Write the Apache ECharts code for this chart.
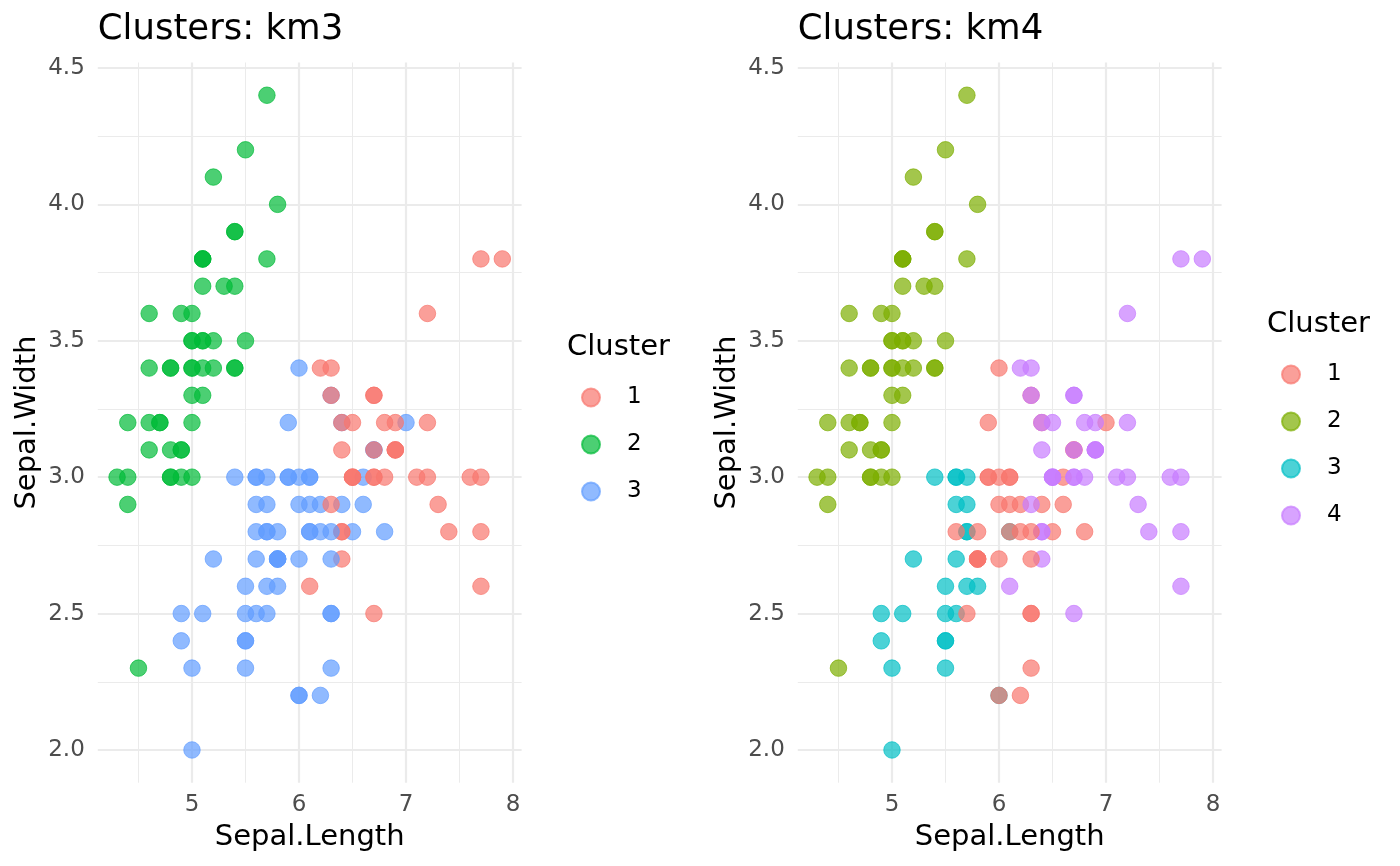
<!DOCTYPE html>
<html>
<head>
<meta charset="utf-8">
<script src="https://cdn.jsdelivr.net/npm/echarts@6/dist/echarts.min.js"></script>
<style>
html,body{margin:0;padding:0;background:#fff;}
#chart{width:1400px;height:866px;}
</style>
</head>
<body>
<div id="chart"></div>
<script>
const sepalLength = [
5.1,4.9,4.7,4.6,5.0,5.4,4.6,5.0,4.4,4.9,
5.4,4.8,4.8,4.3,5.8,5.7,5.4,5.1,5.7,5.1,
5.4,5.1,4.6,5.1,4.8,5.0,5.0,5.2,5.2,4.7,
4.8,5.4,5.2,5.5,4.9,5.0,5.5,4.9,4.4,5.1,
5.0,4.5,4.4,5.0,5.1,4.8,5.1,4.6,5.3,5.0,
7.0,6.4,6.9,5.5,6.5,5.7,6.3,4.9,6.6,5.2,
5.0,5.9,6.0,6.1,5.6,6.7,5.6,5.8,6.2,5.6,
5.9,6.1,6.3,6.1,6.4,6.6,6.8,6.7,6.0,5.7,
5.5,5.5,5.8,6.0,5.4,6.0,6.7,6.3,5.6,5.5,
5.5,6.1,5.8,5.0,5.6,5.7,5.7,6.2,5.1,5.7,
6.3,5.8,7.1,6.3,6.5,7.6,4.9,7.3,6.7,7.2,
6.5,6.4,6.8,5.7,5.8,6.4,6.5,7.7,7.7,6.0,
6.9,5.6,7.7,6.3,6.7,7.2,6.2,6.1,6.4,7.2,
7.4,7.9,6.4,6.3,6.1,7.7,6.3,6.4,6.0,6.9,
6.7,6.9,5.8,6.8,6.7,6.7,6.3,6.5,6.2,5.9
];
const sepalWidth = [
3.5,3.0,3.2,3.1,3.6,3.9,3.4,3.4,2.9,3.1,
3.7,3.4,3.0,3.0,4.0,4.4,3.9,3.5,3.8,3.8,
3.4,3.7,3.6,3.3,3.4,3.0,3.4,3.5,3.4,3.2,
3.1,3.4,4.1,4.2,3.1,3.2,3.5,3.6,3.0,3.4,
3.5,2.3,3.2,3.5,3.8,3.0,3.8,3.2,3.7,3.3,
3.2,3.2,3.1,2.3,2.8,2.8,3.3,2.4,2.9,2.7,
2.0,3.0,2.2,2.9,2.9,3.1,3.0,2.7,2.2,2.5,
3.2,2.8,2.5,2.8,2.9,3.0,2.8,3.0,2.9,2.6,
2.4,2.4,2.7,2.7,3.0,3.4,3.1,2.3,3.0,2.5,
2.6,3.0,2.6,2.3,2.7,3.0,2.9,2.9,2.5,2.8,
3.3,2.7,3.0,2.9,3.0,3.0,2.5,2.9,2.5,3.6,
3.2,2.7,3.0,2.5,2.8,3.2,3.0,3.8,2.6,2.2,
3.2,2.8,2.8,2.7,3.3,3.2,2.8,3.0,2.8,3.0,
2.8,3.8,2.8,2.8,2.6,3.0,3.4,3.1,3.0,3.1,
3.1,3.1,2.7,3.2,3.3,3.0,2.5,3.0,3.4,3.0
];
const km3 = [
2,2,2,2,2,2,2,2,2,2, 2,2,2,2,2,2,2,2,2,2, 2,2,2,2,2,2,2,2,2,2, 2,2,2,2,2,2,2,2,2,2, 2,2,2,2,2,2,2,2,2,2,
3,3,1,3,3,3,3,3,3,3, 3,3,3,3,3,3,3,3,3,3, 3,3,3,3,3,3,3,1,3,3, 3,3,3,3,3,3,3,3,3,3, 3,3,3,3,3,3,3,3,3,3,
1,3,1,1,1,1,3,1,1,1, 1,1,1,3,3,1,1,1,1,3, 1,3,1,3,1,1,3,3,1,1, 1,1,1,3,1,1,1,1,3,1, 1,1,3,1,1,1,3,1,1,3
];
const km4 = [
2,2,2,2,2,2,2,2,2,2, 2,2,2,2,2,2,2,2,2,2, 2,2,2,2,2,2,2,2,2,2, 2,2,2,2,2,2,2,2,2,2, 2,2,2,2,2,2,2,2,2,2,
1,1,4,3,1,3,1,3,1,3, 3,1,3,1,3,1,3,1,1,3, 1,3,1,1,1,1,1,4,1,3, 3,3,1,1,3,1,1,1,3,3, 3,1,3,3,3,3,3,1,3,3,
4,1,4,4,4,4,3,4,4,4, 4,4,4,1,1,4,4,4,4,1, 4,1,4,1,4,4,1,1,4,4, 4,4,4,1,4,4,4,4,1,4, 4,4,1,4,4,4,1,4,4,1
];
const panelTitles = ['Clusters: km3', 'Clusters: km4'];
const clusterLabels3 = ['1','2','3'];
const clusterLabels4 = ['1','2','3','4'];
const colors3 = ['#F8766D','#00BA38','#619CFF'];
const colors4 = ['#F8766D','#7CAE00','#00BFC4','#C77CFF'];
const xTicks = [5,6,7,8];
const xMinor = [4.5,5.5,6.5,7.5];
const yTicks = [2.0,2.5,3.0,3.5,4.0,4.5];
const yMinor = [2.25,2.75,3.25,3.75,4.25];
const xLimits = [4.12, 8.08];
const yLimits = [1.88, 4.52];

const FONT = 'DejaVu Sans';
const chart = echarts.init(document.getElementById('chart'), null, {renderer:'canvas'});

const panels = [
  {left: 97.8, clusters: km3, colors: colors3, labels: clusterLabels3, legendLeft: 581, legendTop: 386, legTitleTop: 333, legTitleLeft: 567},
  {left: 797.8, clusters: km4, colors: colors4, labels: clusterLabels4, legendLeft: 1281, legendTop: 363, legTitleTop: 310, legTitleLeft: 1267}
];

const grids = [], xAxes = [], yAxes = [], series = [], titles = [], legends = [];
panels.forEach((p, i) => {
  grids.push({left: p.left, top: 62.5, width: 423.8, height: 720.2, containLabel: false});
  xAxes.push({
    type: 'value', gridIndex: i, min: xLimits[0], max: xLimits[1],
    name: 'Sepal.Length', nameLocation: 'middle', nameGap: 40,
    nameTextStyle: {fontFamily: FONT, fontSize: 29, color: '#000'},
    axisLine: {show: false}, axisTick: {show: false}, splitLine: {show: false},
    axisLabel: {customValues: xTicks, formatter: v => String(v), fontFamily: FONT, fontSize: 23, color: '#4D4D4D', margin: 11}
  });
  yAxes.push({
    type: 'value', gridIndex: i, min: yLimits[0], max: yLimits[1],
    name: 'Sepal.Width', nameLocation: 'middle', nameGap: 56, nameRotate: 90,
    nameTextStyle: {fontFamily: FONT, fontSize: 29, color: '#000'},
    axisLine: {show: false}, axisTick: {show: false}, splitLine: {show: false},
    axisLabel: {customValues: yTicks, formatter: v => v.toFixed(1), fontFamily: FONT, fontSize: 23, color: '#4D4D4D', margin: 13}
  });
  const gl = [];
  xMinor.forEach(v => gl.push({xAxis: v, lineStyle: {width: 1, color: '#EBEBEB', type: 'solid'}}));
  yMinor.forEach(v => gl.push({yAxis: v, lineStyle: {width: 1, color: '#EBEBEB', type: 'solid'}}));
  xTicks.forEach(v => gl.push({xAxis: v, lineStyle: {width: 2.2, color: '#EBEBEB', type: 'solid'}}));
  yTicks.forEach(v => gl.push({yAxis: v, lineStyle: {width: 2.2, color: '#EBEBEB', type: 'solid'}}));
  series.push({
    type: 'scatter', xAxisIndex: i, yAxisIndex: i, data: [], silent: true, z: 0,
    markLine: {silent: true, symbol: ['none','none'], label: {show: false}, animation: false, z: 0, data: gl}
  });
  const pts = sepalLength.map((x, k) => {
    const col = p.colors[p.clusters[k] - 1];
    return {value: [x, sepalWidth[k], p.clusters[k]], itemStyle: {color: col, borderColor: col}};
  });
  series.push({
    type: 'scatter', name: 'pts' + i, xAxisIndex: i, yAxisIndex: i, z: 3,
    data: pts, symbolSize: 16.5, animation: false,
    itemStyle: {opacity: 0.7, borderWidth: 1}
  });
  const legendNames = [];
  p.labels.forEach((lab, c) => {
    const nm = 'k' + i + '-' + lab;
    legendNames.push(nm);
    series.push({
      type: 'scatter', name: nm, xAxisIndex: i, yAxisIndex: i, data: [],
      itemStyle: {color: p.colors[c], opacity: 0.7, borderColor: p.colors[c], borderWidth: 1}
    });
  });
  titles.push({text: panelTitles[i], left: p.left, top: 12, padding: 0,
    textStyle: {fontFamily: FONT, fontSize: 35.5, fontWeight: 'normal', color: '#000'}});
  titles.push({text: 'Cluster', left: p.legTitleLeft, top: p.legTitleTop, padding: 0,
    textStyle: {fontFamily: FONT, fontSize: 29, fontWeight: 'normal', color: '#000'}});
  legends.push({
    data: legendNames, orient: 'vertical', left: p.legendLeft, top: p.legendTop, padding: 0,
    icon: 'circle', itemWidth: 18, itemHeight: 18, itemGap: 24, selectedMode: false,
    formatter: n => n.split('-')[1],
    textStyle: {fontFamily: FONT, fontSize: 23, color: '#000', lineHeight: 23, padding: [0,0,0,22]}
  });
});

chart.setOption({
  animation: false,
  backgroundColor: '#fff',
  title: titles,
  grid: grids,
  xAxis: xAxes,
  yAxis: yAxes,
  legend: legends,
  series: series
});
</script>
</body>
</html>
